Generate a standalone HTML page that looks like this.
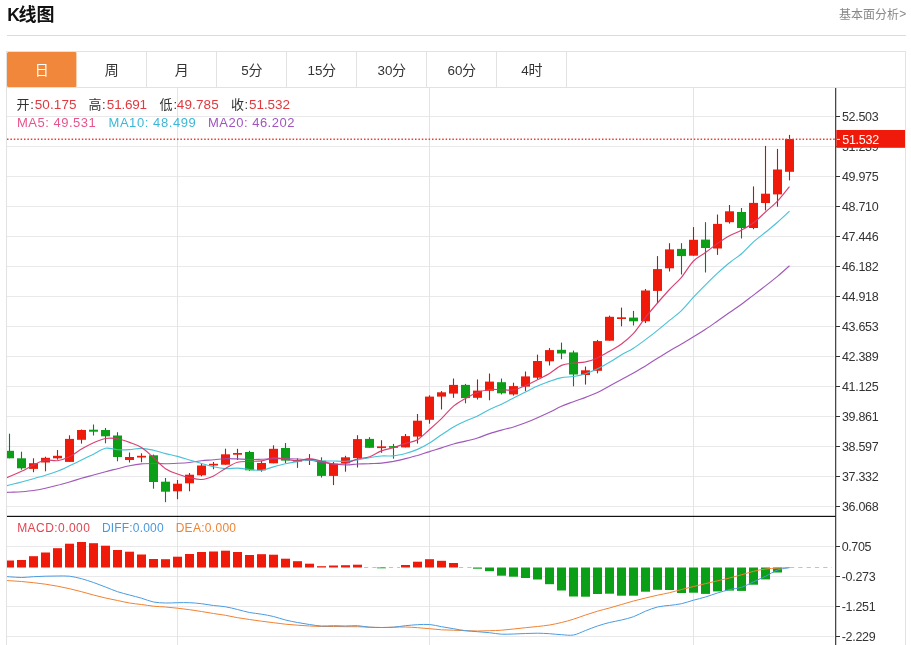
<!DOCTYPE html>
<html lang="zh-CN">
<head>
<meta charset="utf-8">
<title>K线图</title>
<style>
*{box-sizing:border-box}
html,body{margin:0;padding:0;background:#fff}
body{width:911px;height:645px;overflow:hidden;position:relative;font-family:"Liberation Sans","Noto Sans CJK SC",sans-serif;color:#333}
svg{display:block;overflow:visible;will-change:transform}
svg text{font-family:"Liberation Sans","Noto Sans CJK SC",sans-serif}
.title{position:absolute;left:7px;top:0px;height:26px}
.tk{font-size:17.5px;font-weight:bold;fill:#111}
.more{position:absolute;left:839px;top:6px}
.lk{font-size:12px;fill:#888}
.hr{position:absolute;left:7px;top:35px;width:899px;height:1px;background:#dcdcdc}
.box{position:absolute;left:6px;top:51px;width:900px;height:600px;border:1px solid #e2e2e2;border-bottom:0}
.tabs{height:36px;border-bottom:1px solid #e2e2e2;display:flex}
.tab{width:70px;height:35px;border-right:1px solid #e2e2e2}
.tab.on{background:#f0873a;border-radius:1.5px;border-right-color:#f9cfae}
.tn{font-size:13.4px}
.chart{position:absolute;left:0;top:0}
.sr{position:absolute;width:1px;height:1px;margin:-1px;padding:0;overflow:hidden;clip:rect(0 0 0 0);clip-path:inset(50%);white-space:nowrap;border:0}
.ax text,text.ax{font-size:12px;fill:#333;letter-spacing:-0.25px}
.i1{font-size:14px;letter-spacing:-0.4px}
.i2{font-size:14px;letter-spacing:-0.2px}
.i3{font-size:13px;letter-spacing:-0.1px}
</style>
</head>
<body>
<div class="title"><span class="sr">K线图</span><svg width="60" height="26" viewBox="0 0 60 26" aria-hidden="true"><text x="0.2" y="21.1" class="tk">K</text><text x="11.6" y="21.4" font-size="18" font-weight="bold" fill="#111">线图</text></svg></div>
<div class="more"><span class="sr">基本面分析&gt;</span><svg width="70" height="16" viewBox="0 0 70 16" aria-hidden="true"><text x="0" y="12.6" font-size="12" fill="#888">基本面分析</text><text x="60.3" y="12.2" class="lk">&gt;</text></svg></div>
<div class="hr"></div>
<div class="box"><div class="tabs"><div class="tab on"><span class="sr">日</span><svg width="70" height="35" viewBox="0 0 70 35" aria-hidden="true"><text x="27.8" y="22.9" font-size="14" fill="#fff">日</text></svg></div><div class="tab"><span class="sr">周</span><svg width="70" height="35" viewBox="0 0 70 35" aria-hidden="true"><text x="27.8" y="22.9" font-size="14" fill="#333">周</text></svg></div><div class="tab"><span class="sr">月</span><svg width="70" height="35" viewBox="0 0 70 35" aria-hidden="true"><text x="27.8" y="22.9" font-size="14" fill="#333">月</text></svg></div><div class="tab"><span class="sr">5分</span><svg width="70" height="35" viewBox="0 0 70 35" aria-hidden="true"><text x="24.2" y="23" class="tn" fill="#333">5</text><text x="31.45" y="22.9" font-size="14" fill="#333">分</text></svg></div><div class="tab"><span class="sr">15分</span><svg width="70" height="35" viewBox="0 0 70 35" aria-hidden="true"><text x="20.5" y="23" class="tn" fill="#333">15</text><text x="35.1" y="22.9" font-size="14" fill="#333">分</text></svg></div><div class="tab"><span class="sr">30分</span><svg width="70" height="35" viewBox="0 0 70 35" aria-hidden="true"><text x="20.5" y="23" class="tn" fill="#333">30</text><text x="35.1" y="22.9" font-size="14" fill="#333">分</text></svg></div><div class="tab"><span class="sr">60分</span><svg width="70" height="35" viewBox="0 0 70 35" aria-hidden="true"><text x="20.5" y="23" class="tn" fill="#333">60</text><text x="35.1" y="22.9" font-size="14" fill="#333">分</text></svg></div><div class="tab"><span class="sr">4时</span><svg width="70" height="35" viewBox="0 0 70 35" aria-hidden="true"><text x="24.2" y="23" class="tn" fill="#333">4</text><text x="31.45" y="22.9" font-size="14" fill="#333">时</text></svg></div></div></div>
<svg class="chart" width="911" height="645" viewBox="0 0 911 645">
<desc>日K线 开:50.175 高:51.691 低:49.785 收:51.532 MA5:49.531 MA10:48.499 MA20:46.202</desc>
<defs><clipPath id="cp"><rect x="7" y="88" width="828" height="557"/></clipPath></defs>
<g stroke="#e9e9ec" stroke-width="1" shape-rendering="crispEdges">
<line x1="7" y1="116.5" x2="834" y2="116.5"/>
<line x1="7" y1="146.5" x2="834" y2="146.5"/>
<line x1="7" y1="176.5" x2="834" y2="176.5"/>
<line x1="7" y1="206.5" x2="834" y2="206.5"/>
<line x1="7" y1="236.5" x2="834" y2="236.5"/>
<line x1="7" y1="266.5" x2="834" y2="266.5"/>
<line x1="7" y1="296.5" x2="834" y2="296.5"/>
<line x1="7" y1="326.5" x2="834" y2="326.5"/>
<line x1="7" y1="356.5" x2="834" y2="356.5"/>
<line x1="7" y1="386.5" x2="834" y2="386.5"/>
<line x1="7" y1="416.5" x2="834" y2="416.5"/>
<line x1="7" y1="446.5" x2="834" y2="446.5"/>
<line x1="7" y1="476.5" x2="834" y2="476.5"/>
<line x1="7" y1="506.5" x2="834" y2="506.5"/>
<line x1="7" y1="546.5" x2="834" y2="546.5"/>
<line x1="7" y1="576.5" x2="834" y2="576.5"/>
<line x1="7" y1="606.5" x2="834" y2="606.5"/>
<line x1="7" y1="636.5" x2="834" y2="636.5"/>
</g>
<g stroke="#e3e4ea" stroke-width="1" shape-rendering="crispEdges">
<line x1="177.5" y1="88" x2="177.5" y2="645"/>
<line x1="429.5" y1="88" x2="429.5" y2="645"/>
<line x1="693.5" y1="88" x2="693.5" y2="645"/>
</g>
<line x1="364" y1="567.5" x2="400" y2="567.5" stroke="#a3caee" stroke-width="1" stroke-dasharray="4.2 4.1"/>
<line x1="459" y1="567.5" x2="472" y2="567.5" stroke="#a3caee" stroke-width="1" stroke-dasharray="4.2 4.1"/>
<line x1="790" y1="567.5" x2="832" y2="567.5" stroke="#a3caee" stroke-width="1" stroke-dasharray="4.2 4.1"/>
<g clip-path="url(#cp)">
<rect x="5.0" y="560.5" width="9.0" height="7.0" fill="#f01a0a"/>
<rect x="17.0" y="560.0" width="9.0" height="7.5" fill="#f01a0a"/>
<rect x="29.0" y="556.2" width="9.0" height="11.3" fill="#f01a0a"/>
<rect x="41.0" y="552.5" width="9.0" height="15.0" fill="#f01a0a"/>
<rect x="53.0" y="548.2" width="9.0" height="19.3" fill="#f01a0a"/>
<rect x="65.0" y="543.7" width="9.0" height="23.8" fill="#f01a0a"/>
<rect x="77.0" y="542.0" width="9.0" height="25.5" fill="#f01a0a"/>
<rect x="89.0" y="543.2" width="9.0" height="24.3" fill="#f01a0a"/>
<rect x="101.0" y="545.7" width="9.0" height="21.8" fill="#f01a0a"/>
<rect x="113.0" y="550.0" width="9.0" height="17.5" fill="#f01a0a"/>
<rect x="125.0" y="551.7" width="9.0" height="15.8" fill="#f01a0a"/>
<rect x="137.0" y="554.5" width="9.0" height="13.0" fill="#f01a0a"/>
<rect x="149.0" y="559.0" width="9.0" height="8.5" fill="#f01a0a"/>
<rect x="161.0" y="559.2" width="9.0" height="8.3" fill="#f01a0a"/>
<rect x="173.0" y="556.7" width="9.0" height="10.8" fill="#f01a0a"/>
<rect x="185.0" y="554.0" width="9.0" height="13.5" fill="#f01a0a"/>
<rect x="197.0" y="552.0" width="9.0" height="15.5" fill="#f01a0a"/>
<rect x="209.0" y="551.5" width="9.0" height="16.0" fill="#f01a0a"/>
<rect x="221.0" y="550.7" width="9.0" height="16.8" fill="#f01a0a"/>
<rect x="233.0" y="552.0" width="9.0" height="15.5" fill="#f01a0a"/>
<rect x="245.0" y="555.0" width="9.0" height="12.5" fill="#f01a0a"/>
<rect x="257.0" y="554.2" width="9.0" height="13.3" fill="#f01a0a"/>
<rect x="269.0" y="554.7" width="9.0" height="12.8" fill="#f01a0a"/>
<rect x="281.0" y="558.7" width="9.0" height="8.8" fill="#f01a0a"/>
<rect x="293.0" y="561.2" width="9.0" height="6.3" fill="#f01a0a"/>
<rect x="305.0" y="563.7" width="9.0" height="3.8" fill="#f01a0a"/>
<rect x="317.0" y="566.2" width="9.0" height="1.3" fill="#f01a0a"/>
<rect x="329.0" y="565.5" width="9.0" height="2.0" fill="#f01a0a"/>
<rect x="341.0" y="565.2" width="9.0" height="2.3" fill="#f01a0a"/>
<rect x="353.0" y="564.7" width="9.0" height="2.8" fill="#f01a0a"/>
<rect x="377.0" y="567.5" width="9.0" height="0.8" fill="#0b9f17"/>
<rect x="401.0" y="565.0" width="9.0" height="2.5" fill="#f01a0a"/>
<rect x="413.0" y="561.7" width="9.0" height="5.8" fill="#f01a0a"/>
<rect x="425.0" y="559.2" width="9.0" height="8.3" fill="#f01a0a"/>
<rect x="437.0" y="560.8" width="9.0" height="6.7" fill="#f01a0a"/>
<rect x="449.0" y="563.0" width="9.0" height="4.5" fill="#f01a0a"/>
<rect x="473.0" y="567.5" width="9.0" height="1.2" fill="#0b9f17"/>
<rect x="485.0" y="567.5" width="9.0" height="3.7" fill="#0b9f17"/>
<rect x="497.0" y="567.5" width="9.0" height="8.2" fill="#0b9f17"/>
<rect x="509.0" y="567.5" width="9.0" height="9.2" fill="#0b9f17"/>
<rect x="521.0" y="567.5" width="9.0" height="10.5" fill="#0b9f17"/>
<rect x="533.0" y="567.5" width="9.0" height="12.0" fill="#0b9f17"/>
<rect x="545.0" y="567.5" width="9.0" height="16.7" fill="#0b9f17"/>
<rect x="557.0" y="567.5" width="9.0" height="23.0" fill="#0b9f17"/>
<rect x="569.0" y="567.5" width="9.0" height="29.0" fill="#0b9f17"/>
<rect x="581.0" y="567.5" width="9.0" height="29.2" fill="#0b9f17"/>
<rect x="593.0" y="567.5" width="9.0" height="26.5" fill="#0b9f17"/>
<rect x="605.0" y="567.5" width="9.0" height="26.2" fill="#0b9f17"/>
<rect x="617.0" y="567.5" width="9.0" height="28.2" fill="#0b9f17"/>
<rect x="629.0" y="567.5" width="9.0" height="28.2" fill="#0b9f17"/>
<rect x="641.0" y="567.5" width="9.0" height="24.2" fill="#0b9f17"/>
<rect x="653.0" y="567.5" width="9.0" height="22.3" fill="#0b9f17"/>
<rect x="665.0" y="567.5" width="9.0" height="22.5" fill="#0b9f17"/>
<rect x="677.0" y="567.5" width="9.0" height="25.5" fill="#0b9f17"/>
<rect x="689.0" y="567.5" width="9.0" height="25.2" fill="#0b9f17"/>
<rect x="701.0" y="567.5" width="9.0" height="26.4" fill="#0b9f17"/>
<rect x="713.0" y="567.5" width="9.0" height="23.9" fill="#0b9f17"/>
<rect x="725.0" y="567.5" width="9.0" height="23.1" fill="#0b9f17"/>
<rect x="737.0" y="567.5" width="9.0" height="23.4" fill="#0b9f17"/>
<rect x="749.0" y="567.5" width="9.0" height="17.2" fill="#0b9f17"/>
<rect x="761.0" y="567.5" width="9.0" height="11.9" fill="#0b9f17"/>
<rect x="773.0" y="567.5" width="9.0" height="5.0" fill="#0b9f17"/>
<line x1="9.5" y1="433.7" x2="9.5" y2="458.3" stroke="#0c7c18" stroke-width="1.1"/>
<rect x="5.0" y="450.8" width="9.0" height="7.5" fill="#0b9f17"/>
<line x1="21.5" y1="451.7" x2="21.5" y2="469.7" stroke="#0c7c18" stroke-width="1.1"/>
<rect x="17.0" y="458.3" width="9.0" height="10.0" fill="#0b9f17"/>
<line x1="33.5" y1="458.3" x2="33.5" y2="472.2" stroke="#bd150d" stroke-width="1.1"/>
<rect x="29.0" y="463.2" width="9.0" height="5.7" fill="#f01a0a"/>
<line x1="45.5" y1="456.7" x2="45.5" y2="471.3" stroke="#bd150d" stroke-width="1.1"/>
<rect x="41.0" y="457.8" width="9.0" height="4.7" fill="#f01a0a"/>
<line x1="57.5" y1="450.0" x2="57.5" y2="459.7" stroke="#bd150d" stroke-width="1.1"/>
<rect x="53.0" y="455.8" width="9.0" height="2.5" fill="#f01a0a"/>
<line x1="69.5" y1="435.3" x2="69.5" y2="461.9" stroke="#bd150d" stroke-width="1.1"/>
<rect x="65.0" y="438.9" width="9.0" height="23.0" fill="#f01a0a"/>
<line x1="81.5" y1="429.5" x2="81.5" y2="443.6" stroke="#bd150d" stroke-width="1.1"/>
<rect x="77.0" y="430.0" width="9.0" height="9.8" fill="#f01a0a"/>
<line x1="93.5" y1="424.5" x2="93.5" y2="435.5" stroke="#0c7c18" stroke-width="1.1"/>
<rect x="89.0" y="429.7" width="9.0" height="2.0" fill="#0b9f17"/>
<line x1="105.5" y1="428.0" x2="105.5" y2="443.3" stroke="#0c7c18" stroke-width="1.1"/>
<rect x="101.0" y="430.0" width="9.0" height="6.3" fill="#0b9f17"/>
<line x1="117.5" y1="432.2" x2="117.5" y2="461.3" stroke="#0c7c18" stroke-width="1.1"/>
<rect x="113.0" y="435.5" width="9.0" height="21.5" fill="#0b9f17"/>
<line x1="129.5" y1="452.5" x2="129.5" y2="462.5" stroke="#bd150d" stroke-width="1.1"/>
<rect x="125.0" y="457.0" width="9.0" height="3.0" fill="#f01a0a"/>
<line x1="141.5" y1="453.3" x2="141.5" y2="462.2" stroke="#bd150d" stroke-width="1.1"/>
<rect x="137.0" y="455.8" width="9.0" height="1.7" fill="#f01a0a"/>
<line x1="153.5" y1="454.5" x2="153.5" y2="488.7" stroke="#0c7c18" stroke-width="1.1"/>
<rect x="149.0" y="455.3" width="9.0" height="26.7" fill="#0b9f17"/>
<line x1="165.5" y1="478.0" x2="165.5" y2="502.2" stroke="#0c7c18" stroke-width="1.1"/>
<rect x="161.0" y="481.7" width="9.0" height="10.0" fill="#0b9f17"/>
<line x1="177.5" y1="480.0" x2="177.5" y2="499.2" stroke="#bd150d" stroke-width="1.1"/>
<rect x="173.0" y="483.7" width="9.0" height="7.6" fill="#f01a0a"/>
<line x1="189.5" y1="473.0" x2="189.5" y2="491.3" stroke="#bd150d" stroke-width="1.1"/>
<rect x="185.0" y="474.7" width="9.0" height="8.6" fill="#f01a0a"/>
<line x1="201.5" y1="463.7" x2="201.5" y2="476.3" stroke="#bd150d" stroke-width="1.1"/>
<rect x="197.0" y="465.5" width="9.0" height="9.8" fill="#f01a0a"/>
<line x1="213.5" y1="462.0" x2="213.5" y2="469.2" stroke="#bd150d" stroke-width="1.1"/>
<rect x="209.0" y="463.8" width="9.0" height="1.7" fill="#f01a0a"/>
<line x1="225.5" y1="448.7" x2="225.5" y2="464.7" stroke="#bd150d" stroke-width="1.1"/>
<rect x="221.0" y="454.3" width="9.0" height="10.4" fill="#f01a0a"/>
<line x1="237.5" y1="448.8" x2="237.5" y2="460.0" stroke="#bd150d" stroke-width="1.1"/>
<rect x="233.0" y="453.0" width="9.0" height="1.7" fill="#f01a0a"/>
<line x1="249.5" y1="450.8" x2="249.5" y2="470.8" stroke="#0c7c18" stroke-width="1.1"/>
<rect x="245.0" y="452.0" width="9.0" height="18.3" fill="#0b9f17"/>
<line x1="261.5" y1="460.8" x2="261.5" y2="471.7" stroke="#bd150d" stroke-width="1.1"/>
<rect x="257.0" y="463.0" width="9.0" height="7.3" fill="#f01a0a"/>
<line x1="273.5" y1="445.3" x2="273.5" y2="463.3" stroke="#bd150d" stroke-width="1.1"/>
<rect x="269.0" y="448.8" width="9.0" height="14.5" fill="#f01a0a"/>
<line x1="285.5" y1="443.0" x2="285.5" y2="463.2" stroke="#0c7c18" stroke-width="1.1"/>
<rect x="281.0" y="448.0" width="9.0" height="12.6" fill="#0b9f17"/>
<line x1="297.5" y1="458.3" x2="297.5" y2="467.9" stroke="#0c7c18" stroke-width="1.1"/>
<rect x="293.0" y="460.0" width="9.0" height="1.6" fill="#0b9f17"/>
<line x1="309.5" y1="454.1" x2="309.5" y2="465.0" stroke="#bd150d" stroke-width="1.1"/>
<rect x="305.0" y="459.0" width="9.0" height="1.6" fill="#f01a0a"/>
<line x1="321.5" y1="457.3" x2="321.5" y2="477.6" stroke="#0c7c18" stroke-width="1.1"/>
<rect x="317.0" y="460.7" width="9.0" height="15.2" fill="#0b9f17"/>
<line x1="333.5" y1="462.0" x2="333.5" y2="485.1" stroke="#bd150d" stroke-width="1.1"/>
<rect x="329.0" y="463.7" width="9.0" height="12.2" fill="#f01a0a"/>
<line x1="345.5" y1="455.8" x2="345.5" y2="471.7" stroke="#bd150d" stroke-width="1.1"/>
<rect x="341.0" y="457.3" width="9.0" height="6.0" fill="#f01a0a"/>
<line x1="357.5" y1="435.2" x2="357.5" y2="467.5" stroke="#bd150d" stroke-width="1.1"/>
<rect x="353.0" y="439.1" width="9.0" height="19.0" fill="#f01a0a"/>
<line x1="369.5" y1="437.2" x2="369.5" y2="447.8" stroke="#0c7c18" stroke-width="1.1"/>
<rect x="365.0" y="438.9" width="9.0" height="8.9" fill="#0b9f17"/>
<line x1="381.5" y1="440.2" x2="381.5" y2="452.8" stroke="#bd150d" stroke-width="1.1"/>
<rect x="377.0" y="446.4" width="9.0" height="1.7" fill="#f01a0a"/>
<line x1="393.5" y1="443.9" x2="393.5" y2="458.7" stroke="#0c7c18" stroke-width="1.1"/>
<rect x="389.0" y="446.1" width="9.0" height="1.7" fill="#0b9f17"/>
<line x1="405.5" y1="434.0" x2="405.5" y2="447.4" stroke="#bd150d" stroke-width="1.1"/>
<rect x="401.0" y="436.1" width="9.0" height="11.3" fill="#f01a0a"/>
<line x1="417.5" y1="414.0" x2="417.5" y2="443.6" stroke="#bd150d" stroke-width="1.1"/>
<rect x="413.0" y="420.7" width="9.0" height="15.9" fill="#f01a0a"/>
<line x1="429.5" y1="395.3" x2="429.5" y2="423.7" stroke="#bd150d" stroke-width="1.1"/>
<rect x="425.0" y="396.6" width="9.0" height="23.2" fill="#f01a0a"/>
<line x1="441.5" y1="391.1" x2="441.5" y2="409.5" stroke="#bd150d" stroke-width="1.1"/>
<rect x="437.0" y="392.3" width="9.0" height="4.3" fill="#f01a0a"/>
<line x1="453.5" y1="378.5" x2="453.5" y2="397.8" stroke="#bd150d" stroke-width="1.1"/>
<rect x="449.0" y="384.9" width="9.0" height="8.7" fill="#f01a0a"/>
<line x1="465.5" y1="383.9" x2="465.5" y2="403.3" stroke="#0c7c18" stroke-width="1.1"/>
<rect x="461.0" y="384.9" width="9.0" height="13.2" fill="#0b9f17"/>
<line x1="477.5" y1="379.4" x2="477.5" y2="399.5" stroke="#bd150d" stroke-width="1.1"/>
<rect x="473.0" y="390.6" width="9.0" height="7.2" fill="#f01a0a"/>
<line x1="489.5" y1="373.5" x2="489.5" y2="400.3" stroke="#bd150d" stroke-width="1.1"/>
<rect x="485.0" y="381.6" width="9.0" height="9.2" fill="#f01a0a"/>
<line x1="501.5" y1="378.5" x2="501.5" y2="394.4" stroke="#0c7c18" stroke-width="1.1"/>
<rect x="497.0" y="382.2" width="9.0" height="11.1" fill="#0b9f17"/>
<line x1="513.5" y1="382.7" x2="513.5" y2="395.6" stroke="#bd150d" stroke-width="1.1"/>
<rect x="509.0" y="386.1" width="9.0" height="8.3" fill="#f01a0a"/>
<line x1="525.5" y1="371.5" x2="525.5" y2="391.1" stroke="#bd150d" stroke-width="1.1"/>
<rect x="521.0" y="376.4" width="9.0" height="10.2" fill="#f01a0a"/>
<line x1="537.5" y1="354.6" x2="537.5" y2="379.4" stroke="#bd150d" stroke-width="1.1"/>
<rect x="533.0" y="361.0" width="9.0" height="16.7" fill="#f01a0a"/>
<line x1="549.5" y1="348.1" x2="549.5" y2="365.5" stroke="#bd150d" stroke-width="1.1"/>
<rect x="545.0" y="350.1" width="9.0" height="11.2" fill="#f01a0a"/>
<line x1="561.5" y1="342.6" x2="561.5" y2="359.2" stroke="#0c7c18" stroke-width="1.1"/>
<rect x="557.0" y="349.8" width="9.0" height="3.7" fill="#0b9f17"/>
<line x1="573.5" y1="350.6" x2="573.5" y2="386.3" stroke="#0c7c18" stroke-width="1.1"/>
<rect x="569.0" y="352.4" width="9.0" height="22.1" fill="#0b9f17"/>
<line x1="585.5" y1="366.5" x2="585.5" y2="384.6" stroke="#bd150d" stroke-width="1.1"/>
<rect x="581.0" y="370.3" width="9.0" height="4.7" fill="#f01a0a"/>
<line x1="597.5" y1="339.9" x2="597.5" y2="373.4" stroke="#bd150d" stroke-width="1.1"/>
<rect x="593.0" y="341.1" width="9.0" height="29.7" fill="#f01a0a"/>
<line x1="609.5" y1="315.6" x2="609.5" y2="340.7" stroke="#bd150d" stroke-width="1.1"/>
<rect x="605.0" y="316.8" width="9.0" height="23.9" fill="#f01a0a"/>
<line x1="621.5" y1="307.6" x2="621.5" y2="326.3" stroke="#bd150d" stroke-width="1.1"/>
<rect x="617.0" y="317.3" width="9.0" height="1.7" fill="#f01a0a"/>
<line x1="633.5" y1="310.9" x2="633.5" y2="325.5" stroke="#0c7c18" stroke-width="1.1"/>
<rect x="629.0" y="317.6" width="9.0" height="3.7" fill="#0b9f17"/>
<line x1="645.5" y1="289.0" x2="645.5" y2="323.1" stroke="#bd150d" stroke-width="1.1"/>
<rect x="641.0" y="290.5" width="9.0" height="30.8" fill="#f01a0a"/>
<line x1="657.5" y1="256.1" x2="657.5" y2="303.1" stroke="#bd150d" stroke-width="1.1"/>
<rect x="653.0" y="269.1" width="9.0" height="21.8" fill="#f01a0a"/>
<line x1="669.5" y1="243.2" x2="669.5" y2="271.5" stroke="#bd150d" stroke-width="1.1"/>
<rect x="665.0" y="249.4" width="9.0" height="18.9" fill="#f01a0a"/>
<line x1="681.5" y1="243.2" x2="681.5" y2="274.5" stroke="#0c7c18" stroke-width="1.1"/>
<rect x="677.0" y="248.9" width="9.0" height="7.2" fill="#0b9f17"/>
<line x1="693.5" y1="227.1" x2="693.5" y2="255.7" stroke="#bd150d" stroke-width="1.1"/>
<rect x="689.0" y="239.8" width="9.0" height="15.9" fill="#f01a0a"/>
<line x1="705.5" y1="222.2" x2="705.5" y2="272.5" stroke="#0c7c18" stroke-width="1.1"/>
<rect x="701.0" y="239.6" width="9.0" height="8.4" fill="#0b9f17"/>
<line x1="717.5" y1="214.5" x2="717.5" y2="254.9" stroke="#bd150d" stroke-width="1.1"/>
<rect x="713.0" y="223.9" width="9.0" height="24.6" fill="#f01a0a"/>
<line x1="729.5" y1="205.0" x2="729.5" y2="223.6" stroke="#bd150d" stroke-width="1.1"/>
<rect x="725.0" y="211.3" width="9.0" height="10.9" fill="#f01a0a"/>
<line x1="741.5" y1="208.0" x2="741.5" y2="238.5" stroke="#0c7c18" stroke-width="1.1"/>
<rect x="737.0" y="212.0" width="9.0" height="16.0" fill="#0b9f17"/>
<line x1="753.5" y1="186.4" x2="753.5" y2="229.2" stroke="#bd150d" stroke-width="1.1"/>
<rect x="749.0" y="202.9" width="9.0" height="25.1" fill="#f01a0a"/>
<line x1="765.5" y1="145.9" x2="765.5" y2="210.4" stroke="#bd150d" stroke-width="1.1"/>
<rect x="761.0" y="193.7" width="9.0" height="9.3" fill="#f01a0a"/>
<line x1="777.5" y1="148.9" x2="777.5" y2="206.7" stroke="#bd150d" stroke-width="1.1"/>
<rect x="773.0" y="169.5" width="9.0" height="24.9" fill="#f01a0a"/>
<line x1="789.5" y1="134.9" x2="789.5" y2="180.4" stroke="#bd150d" stroke-width="1.1"/>
<rect x="785.0" y="139.0" width="9.0" height="32.8" fill="#f01a0a"/>
<path d="M-2.5,492.9C-0.5,492.8 5.5,492.5 9.5,492.3C13.5,492.1 17.5,492.0 21.5,491.7C25.5,491.4 29.5,491.1 33.5,490.5C37.5,489.9 41.5,489.2 45.5,488.3C49.5,487.4 53.5,486.4 57.5,485.3C61.5,484.2 65.5,483.2 69.5,482.0C73.5,480.8 77.5,479.5 81.5,478.3C85.5,477.1 89.5,476.1 93.5,475.0C97.5,473.9 101.5,472.8 105.5,471.7C109.5,470.6 113.5,469.7 117.5,468.7C121.5,467.7 125.5,466.6 129.5,465.8C133.5,465.0 137.5,464.3 141.5,463.9C145.5,463.5 149.5,463.5 153.5,463.5C157.5,463.5 161.5,463.7 165.5,463.7C169.5,463.7 173.5,463.5 177.5,463.3C181.5,463.1 185.5,462.9 189.5,462.5C193.5,462.1 197.5,461.3 201.5,460.8C205.5,460.3 209.5,460.1 213.5,459.7C217.5,459.3 221.5,458.8 225.5,458.7C229.5,458.6 233.5,458.8 237.5,458.9C241.5,459.1 245.5,459.5 249.5,459.5C253.5,459.6 257.5,459.4 261.5,459.3C265.5,459.1 269.5,458.7 273.5,458.6C277.5,458.5 281.5,458.6 285.5,458.7C289.5,458.8 293.5,458.8 297.5,459.0C301.5,459.2 305.5,459.4 309.5,460.0C313.5,460.5 317.5,461.6 321.5,462.3C325.5,462.9 329.5,463.4 333.5,463.9C337.5,464.3 341.5,464.9 345.5,464.9C349.5,465.0 353.5,464.3 357.5,464.0C361.5,463.8 365.5,463.7 369.5,463.6C373.5,463.4 377.5,463.5 381.5,463.1C385.5,462.7 389.5,462.1 393.5,461.4C397.5,460.6 401.5,459.6 405.5,458.6C409.5,457.6 413.5,456.6 417.5,455.5C421.5,454.3 425.5,452.8 429.5,451.6C433.5,450.3 437.5,449.2 441.5,447.9C445.5,446.6 449.5,445.1 453.5,444.0C457.5,442.8 461.5,442.1 465.5,441.1C469.5,440.2 473.5,439.3 477.5,438.0C481.5,436.8 485.5,434.9 489.5,433.6C493.5,432.3 497.5,431.2 501.5,430.1C505.5,429.0 509.5,428.2 513.5,427.0C517.5,425.7 521.5,424.3 525.5,422.8C529.5,421.2 533.5,419.5 537.5,417.7C541.5,416.0 545.5,414.2 549.5,412.3C553.5,410.4 557.5,407.9 561.5,406.2C565.5,404.4 569.5,403.2 573.5,401.7C577.5,400.2 581.5,398.9 585.5,397.4C589.5,395.8 593.5,394.4 597.5,392.5C601.5,390.6 605.5,388.1 609.5,385.9C613.5,383.7 617.5,381.6 621.5,379.5C625.5,377.3 629.5,375.4 633.5,373.1C637.5,370.9 641.5,368.3 645.5,365.9C649.5,363.4 653.5,360.8 657.5,358.3C661.5,355.8 665.5,353.3 669.5,350.9C673.5,348.5 677.5,346.4 681.5,344.1C685.5,341.8 689.5,339.3 693.5,336.8C697.5,334.4 701.5,332.0 705.5,329.3C709.5,326.7 713.5,323.8 717.5,321.0C721.5,318.2 725.5,315.3 729.5,312.5C733.5,309.7 737.5,307.1 741.5,304.2C745.5,301.3 749.5,298.1 753.5,295.1C757.5,292.0 761.5,289.0 765.5,285.9C769.5,282.8 773.5,279.7 777.5,276.4C781.5,273.0 787.5,267.6 789.5,265.8" fill="none" stroke="#9b4fb5" stroke-width="1.15" stroke-opacity="0.95"/>
<path d="M-2.5,488.0C-0.5,487.5 5.5,486.0 9.5,485.0C13.5,484.0 17.5,483.1 21.5,482.0C25.5,480.9 29.5,479.8 33.5,478.7C37.5,477.6 41.5,476.5 45.5,475.3C49.5,474.1 53.5,472.9 57.5,471.3C61.5,469.7 65.5,467.7 69.5,465.8C73.5,463.9 77.5,461.9 81.5,460.0C85.5,458.1 89.5,456.1 93.5,454.2C97.5,452.2 101.5,449.0 105.5,448.3C109.5,447.6 113.5,449.5 117.5,449.7C121.5,449.9 125.5,449.8 129.5,449.6C133.5,449.4 137.5,448.2 141.5,448.4C145.5,448.5 149.5,449.4 153.5,450.2C157.5,451.1 161.5,452.6 165.5,453.6C169.5,454.6 173.5,455.3 177.5,456.4C181.5,457.5 185.5,458.8 189.5,460.0C193.5,461.2 197.5,462.4 201.5,463.5C205.5,464.7 209.5,465.9 213.5,466.8C217.5,467.6 221.5,468.3 225.5,468.6C229.5,468.8 233.5,468.0 237.5,468.1C241.5,468.3 245.5,469.1 249.5,469.5C253.5,469.8 257.5,470.6 261.5,470.2C265.5,469.8 269.5,468.0 273.5,466.9C277.5,465.8 281.5,464.7 285.5,463.8C289.5,462.9 293.5,462.2 297.5,461.6C301.5,460.9 305.5,460.1 309.5,460.0C313.5,459.9 317.5,460.8 321.5,461.0C325.5,461.2 329.5,461.0 333.5,461.0C337.5,461.1 341.5,461.5 345.5,461.3C349.5,461.1 353.5,460.5 357.5,459.9C361.5,459.3 365.5,458.3 369.5,457.7C373.5,457.0 377.5,456.3 381.5,456.0C385.5,455.7 389.5,456.3 393.5,455.9C397.5,455.5 401.5,454.5 405.5,453.5C409.5,452.4 413.5,451.1 417.5,449.4C421.5,447.7 425.5,445.6 429.5,443.1C433.5,440.7 437.5,437.5 441.5,434.8C445.5,432.1 449.5,429.2 453.5,426.9C457.5,424.6 461.5,422.8 465.5,421.0C469.5,419.2 473.5,418.0 477.5,416.1C481.5,414.2 485.5,411.5 489.5,409.5C493.5,407.5 497.5,406.1 501.5,404.2C505.5,402.3 509.5,400.1 513.5,398.0C517.5,396.0 521.5,394.1 525.5,392.1C529.5,390.1 533.5,387.9 537.5,386.1C541.5,384.3 545.5,382.9 549.5,381.4C553.5,380.0 557.5,378.4 561.5,377.6C565.5,376.7 569.5,377.2 573.5,376.5C577.5,375.9 581.5,375.0 585.5,373.7C589.5,372.5 593.5,370.7 597.5,368.8C601.5,366.9 605.5,364.7 609.5,362.3C613.5,360.0 617.5,357.1 621.5,354.7C625.5,352.4 629.5,350.7 633.5,348.2C637.5,345.7 641.5,342.6 645.5,339.6C649.5,336.7 653.5,333.7 657.5,330.4C661.5,327.2 665.5,323.7 669.5,320.4C673.5,317.1 677.5,314.5 681.5,310.6C685.5,306.8 689.5,301.5 693.5,297.2C697.5,292.9 701.5,288.9 705.5,284.9C709.5,280.9 713.5,276.9 717.5,273.2C721.5,269.5 725.5,265.9 729.5,262.7C733.5,259.4 737.5,257.2 741.5,253.7C745.5,250.3 749.5,245.5 753.5,241.9C757.5,238.3 761.5,235.5 765.5,232.2C769.5,228.9 773.5,225.8 777.5,222.3C781.5,218.8 787.5,213.1 789.5,211.2" fill="none" stroke="#3fbfd6" stroke-width="1.15" stroke-opacity="0.95"/>
<path d="M-2.5,481.7C-0.5,480.8 5.5,478.2 9.5,476.5C13.5,474.8 17.5,473.2 21.5,471.3C25.5,469.4 29.5,466.9 33.5,465.0C37.5,463.1 41.5,460.7 45.5,460.0C49.5,459.3 53.5,461.2 57.5,460.7C61.5,460.1 65.5,458.7 69.5,456.8C73.5,454.9 77.5,451.5 81.5,449.1C85.5,446.8 89.5,444.6 93.5,442.8C97.5,441.1 101.5,439.2 105.5,438.5C109.5,437.9 113.5,438.1 117.5,438.8C121.5,439.4 125.5,440.9 129.5,442.4C133.5,443.9 137.5,445.0 141.5,447.6C145.5,450.1 149.5,454.1 153.5,457.6C157.5,461.1 161.5,466.0 165.5,468.7C169.5,471.4 173.5,472.6 177.5,474.0C181.5,475.5 185.5,476.7 189.5,477.6C193.5,478.5 197.5,479.8 201.5,479.5C205.5,479.2 209.5,477.7 213.5,475.9C217.5,474.0 221.5,470.7 225.5,468.4C229.5,466.1 233.5,463.4 237.5,462.3C241.5,461.1 245.5,461.6 249.5,461.4C253.5,461.1 257.5,461.5 261.5,460.9C265.5,460.3 269.5,458.2 273.5,457.9C277.5,457.6 281.5,458.6 285.5,459.1C289.5,459.6 293.5,460.9 297.5,460.8C301.5,460.7 305.5,458.5 309.5,458.6C313.5,458.6 317.5,460.2 321.5,461.2C325.5,462.1 329.5,463.8 333.5,464.1C337.5,464.5 341.5,464.3 345.5,463.5C349.5,462.6 353.5,460.1 357.5,459.0C361.5,457.9 365.5,458.1 369.5,456.8C373.5,455.4 377.5,452.4 381.5,450.9C385.5,449.3 389.5,448.9 393.5,447.7C397.5,446.4 401.5,444.8 405.5,443.4C409.5,442.1 413.5,442.1 417.5,439.8C421.5,437.4 425.5,433.0 429.5,429.5C433.5,426.0 437.5,422.6 441.5,418.7C445.5,414.8 449.5,409.5 453.5,406.1C457.5,402.8 461.5,400.8 465.5,398.5C469.5,396.2 473.5,394.0 477.5,392.5C481.5,391.0 485.5,390.0 489.5,389.5C493.5,389.0 497.5,389.6 501.5,389.7C505.5,389.8 509.5,390.6 513.5,389.9C517.5,389.3 521.5,387.3 525.5,385.6C529.5,383.9 533.5,381.7 537.5,379.7C541.5,377.6 545.5,375.8 549.5,373.4C553.5,371.0 557.5,367.1 561.5,365.4C565.5,363.7 569.5,363.7 573.5,363.1C577.5,362.5 581.5,362.7 585.5,361.9C589.5,361.0 593.5,359.7 597.5,357.9C601.5,356.1 605.5,353.6 609.5,351.2C613.5,348.9 617.5,347.0 621.5,344.0C625.5,341.0 629.5,337.8 633.5,333.4C637.5,328.9 641.5,322.5 645.5,317.4C649.5,312.3 653.5,307.6 657.5,303.0C661.5,298.4 665.5,293.8 669.5,289.5C673.5,285.2 677.5,282.0 681.5,277.3C685.5,272.5 689.5,265.1 693.5,261.0C697.5,256.8 701.5,255.4 705.5,252.5C709.5,249.6 713.5,246.2 717.5,243.4C721.5,240.7 725.5,238.0 729.5,235.8C733.5,233.6 737.5,232.4 741.5,230.2C745.5,228.0 749.5,225.9 753.5,222.8C757.5,219.8 761.5,215.6 765.5,212.0C769.5,208.3 773.5,205.3 777.5,201.1C781.5,196.9 787.5,189.0 789.5,186.6" fill="none" stroke="#d6386a" stroke-width="1.15" stroke-opacity="0.95"/>
<path d="M-2.5,579.9C-0.5,580.0 5.5,580.4 9.5,580.7C13.5,581.0 17.5,581.2 21.5,581.5C25.5,581.8 29.5,582.2 33.5,582.7C37.5,583.2 41.5,583.6 45.5,584.2C49.5,584.8 53.5,585.5 57.5,586.2C61.5,587.0 65.5,587.8 69.5,588.7C73.5,589.6 77.5,590.7 81.5,591.7C85.5,592.8 89.5,594.0 93.5,595.0C97.5,596.0 101.5,597.1 105.5,598.0C109.5,598.9 113.5,599.7 117.5,600.5C121.5,601.3 125.5,602.3 129.5,603.0C133.5,603.7 137.5,604.0 141.5,604.5C145.5,605.0 149.5,605.8 153.5,606.2C157.5,606.6 161.5,606.7 165.5,607.0C169.5,607.3 173.5,607.8 177.5,608.2C181.5,608.7 185.5,609.2 189.5,609.7C193.5,610.2 197.5,610.9 201.5,611.5C205.5,612.1 209.5,612.9 213.5,613.5C217.5,614.1 221.5,614.6 225.5,615.3C229.5,616.0 233.5,617.0 237.5,617.7C241.5,618.4 245.5,618.9 249.5,619.5C253.5,620.1 257.5,620.7 261.5,621.2C265.5,621.7 269.5,622.2 273.5,622.7C277.5,623.2 281.5,623.8 285.5,624.2C289.5,624.6 293.5,624.9 297.5,625.2C301.5,625.5 305.5,625.8 309.5,626.0C313.5,626.2 317.5,626.4 321.5,626.5C325.5,626.6 329.5,626.5 333.5,626.5C337.5,626.5 341.5,626.7 345.5,626.7C349.5,626.7 353.5,626.6 357.5,626.7C361.5,626.8 365.5,627.1 369.5,627.2C373.5,627.3 377.5,627.5 381.5,627.5C385.5,627.5 389.5,627.3 393.5,627.2C397.5,627.1 401.5,626.9 405.5,627.0C409.5,627.1 413.5,627.4 417.5,627.7C421.5,628.0 425.5,628.4 429.5,628.7C433.5,629.1 437.5,629.5 441.5,629.8C445.5,630.0 449.5,630.1 453.5,630.2C457.5,630.4 461.5,630.6 465.5,630.7C469.5,630.8 473.5,631.0 477.5,631.0C481.5,631.0 485.5,630.8 489.5,630.7C493.5,630.6 497.5,630.5 501.5,630.2C505.5,629.9 509.5,629.4 513.5,629.0C517.5,628.6 521.5,628.1 525.5,627.7C529.5,627.3 533.5,627.0 537.5,626.5C541.5,626.0 545.5,625.7 549.5,625.0C553.5,624.3 557.5,623.5 561.5,622.5C565.5,621.5 569.5,620.5 573.5,619.2C577.5,618.0 581.5,616.3 585.5,615.0C589.5,613.7 593.5,612.4 597.5,611.2C601.5,610.0 605.5,609.1 609.5,608.0C613.5,606.9 617.5,605.7 621.5,604.5C625.5,603.3 629.5,602.1 633.5,601.0C637.5,599.9 641.5,599.0 645.5,598.0C649.5,597.0 653.5,596.1 657.5,595.2C661.5,594.3 665.5,593.7 669.5,592.7C673.5,591.8 677.5,590.5 681.5,589.5C685.5,588.5 689.5,587.5 693.5,586.5C697.5,585.5 701.5,584.6 705.5,583.6C709.5,582.6 713.5,581.7 717.5,580.8C721.5,579.9 725.5,579.0 729.5,578.0C733.5,577.0 737.5,575.9 741.5,574.8C745.5,573.7 749.5,572.3 753.5,571.3C757.5,570.3 761.5,569.5 765.5,569.0C769.5,568.5 773.5,568.3 777.5,568.1C781.5,567.9 787.5,567.7 789.5,567.6" fill="none" stroke="#f08232" stroke-width="1"/>
<path d="M-2.5,576.1C-0.5,576.2 5.5,576.6 9.5,576.8C13.5,577.0 17.5,577.5 21.5,577.5C25.5,577.5 29.5,576.9 33.5,576.7C37.5,576.5 41.5,576.3 45.5,576.2C49.5,576.1 53.5,576.0 57.5,576.0C61.5,576.0 65.5,575.8 69.5,576.2C73.5,576.7 77.5,577.7 81.5,578.7C85.5,579.8 89.5,581.1 93.5,582.5C97.5,583.9 101.5,585.5 105.5,587.0C109.5,588.5 113.5,590.4 117.5,591.7C121.5,593.0 125.5,593.9 129.5,595.0C133.5,596.1 137.5,597.0 141.5,598.2C145.5,599.4 149.5,601.2 153.5,602.0C157.5,602.8 161.5,602.9 165.5,603.0C169.5,603.1 173.5,602.8 177.5,602.7C181.5,602.7 185.5,602.5 189.5,602.7C193.5,602.9 197.5,603.2 201.5,603.7C205.5,604.2 209.5,605.0 213.5,605.5C217.5,606.0 221.5,606.1 225.5,606.8C229.5,607.5 233.5,608.5 237.5,609.5C241.5,610.5 245.5,611.7 249.5,612.5C253.5,613.3 257.5,613.5 261.5,614.2C265.5,614.9 269.5,615.5 273.5,616.5C277.5,617.5 281.5,619.0 285.5,620.0C289.5,621.0 293.5,621.8 297.5,622.5C301.5,623.2 305.5,623.9 309.5,624.5C313.5,625.1 317.5,625.8 321.5,626.0C325.5,626.2 329.5,625.7 333.5,625.7C337.5,625.7 341.5,626.0 345.5,626.0C349.5,626.0 353.5,625.5 357.5,625.7C361.5,625.9 365.5,626.9 369.5,627.2C373.5,627.5 377.5,627.5 381.5,627.5C385.5,627.5 389.5,627.5 393.5,627.2C397.5,626.9 401.5,626.1 405.5,625.7C409.5,625.3 413.5,624.9 417.5,624.7C421.5,624.5 425.5,624.2 429.5,624.5C433.5,624.8 437.5,626.0 441.5,626.7C445.5,627.4 449.5,628.0 453.5,628.7C457.5,629.4 461.5,630.2 465.5,630.7C469.5,631.2 473.5,631.4 477.5,631.7C481.5,632.0 485.5,632.3 489.5,632.7C493.5,633.1 497.5,634.0 501.5,634.2C505.5,634.4 509.5,634.1 513.5,634.0C517.5,633.9 521.5,633.6 525.5,633.5C529.5,633.4 533.5,633.2 537.5,633.2C541.5,633.2 545.5,633.5 549.5,633.7C553.5,634.0 557.5,634.5 561.5,634.7C565.5,634.9 569.5,635.7 573.5,635.0C577.5,634.3 581.5,632.0 585.5,630.5C589.5,629.0 593.5,627.3 597.5,626.0C601.5,624.7 605.5,623.5 609.5,622.5C613.5,621.5 617.5,621.0 621.5,620.0C625.5,619.0 629.5,618.2 633.5,616.7C637.5,615.2 641.5,612.8 645.5,611.2C649.5,609.6 653.5,608.0 657.5,607.0C661.5,606.0 665.5,605.9 669.5,605.4C673.5,604.9 677.5,604.6 681.5,603.7C685.5,602.8 689.5,601.3 693.5,600.2C697.5,599.1 701.5,598.2 705.5,597.0C709.5,595.8 713.5,594.2 717.5,593.0C721.5,591.8 725.5,590.6 729.5,589.6C733.5,588.6 737.5,588.6 741.5,587.3C745.5,586.0 749.5,583.6 753.5,581.8C757.5,580.0 761.5,578.2 765.5,576.3C769.5,574.3 773.5,571.5 777.5,570.1C781.5,568.7 787.5,568.0 789.5,567.6" fill="none" stroke="#4a9be0" stroke-width="1"/>
</g>
<line x1="7" y1="139.2" x2="835" y2="139.2" stroke="#ee3a34" stroke-width="1.4" stroke-dasharray="1.5 1.9"/>
<rect x="7" y="515.8" width="829" height="1.2" fill="#111"/>
<rect x="835.1" y="88" width="1.15" height="557" fill="#333"/>
<g fill="#333" shape-rendering="crispEdges">
<rect x="836" y="116" width="4" height="1"/>
<rect x="836" y="146" width="4" height="1"/>
<rect x="836" y="176" width="4" height="1"/>
<rect x="836" y="206" width="4" height="1"/>
<rect x="836" y="236" width="4" height="1"/>
<rect x="836" y="266" width="4" height="1"/>
<rect x="836" y="296" width="4" height="1"/>
<rect x="836" y="326" width="4" height="1"/>
<rect x="836" y="356" width="4" height="1"/>
<rect x="836" y="386" width="4" height="1"/>
<rect x="836" y="416" width="4" height="1"/>
<rect x="836" y="446" width="4" height="1"/>
<rect x="836" y="476" width="4" height="1"/>
<rect x="836" y="506" width="4" height="1"/>
<rect x="836" y="546" width="4" height="1"/>
<rect x="836" y="576" width="4" height="1"/>
<rect x="836" y="606" width="4" height="1"/>
<rect x="836" y="636" width="4" height="1"/>
</g>
<text x="841.91" y="120.5" font-size="12.5" fill="#333" textLength="36.77" lengthAdjust="spacing">52.503</text>
<text x="841.91" y="150.5" font-size="12.5" fill="#333" textLength="36.77" lengthAdjust="spacing">51.239</text>
<text x="841.91" y="180.5" font-size="12.5" fill="#333" textLength="36.77" lengthAdjust="spacing">49.975</text>
<text x="841.91" y="210.5" font-size="12.5" fill="#333" textLength="36.77" lengthAdjust="spacing">48.710</text>
<text x="841.91" y="240.5" font-size="12.5" fill="#333" textLength="36.77" lengthAdjust="spacing">47.446</text>
<text x="841.91" y="270.5" font-size="12.5" fill="#333" textLength="36.77" lengthAdjust="spacing">46.182</text>
<text x="841.91" y="300.5" font-size="12.5" fill="#333" textLength="36.77" lengthAdjust="spacing">44.918</text>
<text x="841.91" y="330.5" font-size="12.5" fill="#333" textLength="36.77" lengthAdjust="spacing">43.653</text>
<text x="841.91" y="360.5" font-size="12.5" fill="#333" textLength="36.77" lengthAdjust="spacing">42.389</text>
<text x="841.91" y="390.5" font-size="12.5" fill="#333" textLength="36.77" lengthAdjust="spacing">41.125</text>
<text x="841.91" y="420.5" font-size="12.5" fill="#333" textLength="36.77" lengthAdjust="spacing">39.861</text>
<text x="841.91" y="450.5" font-size="12.5" fill="#333" textLength="36.77" lengthAdjust="spacing">38.597</text>
<text x="841.91" y="480.5" font-size="12.5" fill="#333" textLength="36.77" lengthAdjust="spacing">37.332</text>
<text x="841.91" y="510.5" font-size="12.5" fill="#333" textLength="36.77" lengthAdjust="spacing">36.068</text>
<text x="841.71" y="550.5" font-size="12.5" fill="#333" textLength="29.68" lengthAdjust="spacing">0.705</text>
<text x="841.71" y="580.5" font-size="12.5" fill="#333" textLength="33.98" lengthAdjust="spacing">-0.273</text>
<text x="841.71" y="610.5" font-size="12.5" fill="#333" textLength="33.98" lengthAdjust="spacing">-1.251</text>
<text x="841.71" y="640.5" font-size="12.5" fill="#333" textLength="33.98" lengthAdjust="spacing">-2.229</text>
<rect x="836.3" y="130" width="68.7" height="17.8" fill="#f01a0a"/>
<rect x="837" y="138.9" width="3" height="1" fill="#fff"/>
<text x="842.31" y="143.7" font-size="12.5" fill="#fff" textLength="36.77" lengthAdjust="spacing">51.532</text>
<text x="16.6" y="109" font-size="13" fill="#333">开</text><text x="30.2" y="108.7" font-size="13" fill="#333">:</text><text x="34.66" y="108.6" font-size="13.5" fill="#e0393f" textLength="41.88" lengthAdjust="spacing">50.175</text><text x="88.6" y="109" font-size="13" fill="#333">高</text><text x="102.0" y="108.7" font-size="13" fill="#333">:</text><text x="106.86" y="108.6" font-size="13.5" fill="#e0393f" textLength="40.19" lengthAdjust="spacing">51.691</text><text x="159.6" y="109" font-size="13" fill="#333">低</text><text x="173.4" y="108.7" font-size="13" fill="#333">:</text><text x="176.86" y="108.6" font-size="13.5" fill="#e0393f" textLength="41.89" lengthAdjust="spacing">49.785</text><text x="231" y="109" font-size="13" fill="#333">收</text><text x="244.4" y="108.7" font-size="13" fill="#333">:</text><text x="249.06" y="108.6" font-size="13.5" fill="#e0393f" textLength="40.88" lengthAdjust="spacing">51.532</text>
<text x="16.89" y="126.5" font-size="13" fill="#e8558c" textLength="78.83" lengthAdjust="spacing">MA5: 49.531</text>
<text x="108.48" y="126.5" font-size="13" fill="#3cb8d6" textLength="87.23" lengthAdjust="spacing">MA10: 48.499</text>
<text x="207.98" y="126.5" font-size="13" fill="#a055c0" textLength="86.43" lengthAdjust="spacing">MA20: 46.202</text>
<text x="17.14" y="531.8" font-size="12" fill="#e04550" textLength="72.72" lengthAdjust="spacing">MACD:0.000</text>
<text x="101.94" y="531.8" font-size="12" fill="#4a98dc" textLength="61.72" lengthAdjust="spacing">DIFF:0.000</text>
<text x="175.64" y="531.8" font-size="12" fill="#f08232" textLength="60.42" lengthAdjust="spacing">DEA:0.000</text>
</svg>
</body>
</html>
